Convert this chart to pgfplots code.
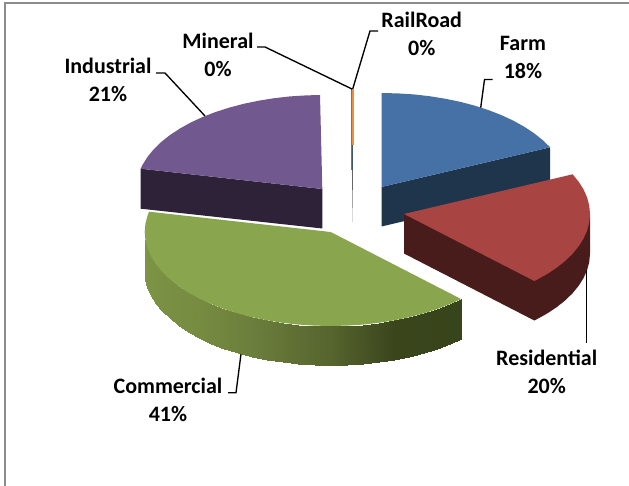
\documentclass[border=0pt]{standalone}
\usepackage{fontspec}
\setmainfont{Carlito}
\usepackage{pgfplots}
\usepackage{pgfplotstable}
\pgfplotsset{compat=1.18}
\definecolor{cfarm}{HTML}{4571A7}
\definecolor{cfarmd}{HTML}{1F354C}
\definecolor{cres}{HTML}{A84442}
\definecolor{cresd}{HTML}{471C1A}
\definecolor{ccom}{HTML}{89A54E}
\definecolor{cind}{HTML}{71588F}
\definecolor{cindd}{HTML}{2E2238}
\definecolor{cframe}{HTML}{8C8C8C}
\definecolor{crail}{HTML}{F08C3C}
\definecolor{cmin}{HTML}{5A7F88}
\pgfplotstableread{
x y
0 0
0 -94
16.2 -93.6
32.3 -92.6
48.1 -90.8
63.6 -88.3
78.6 -85.2
93 -81.4
106.7 -77
119.6 -72
131.5 -66.5
142.5 -60.4
152.4 -53.9
161.1 -47
168.6 -39.7
}\farmtop
\pgfplotstableread{
x y
0 0
168.6 -39.7
168.6 -0.2
0 39.5
}\farmside
\pgfplotstableread{
x y
0 0
168.6 -39.7
174.8 -32.1
179.7 -24.3
183.2 -16.3
185.3 -8.2
186 0
185.3 8.2
183.2 16.3
179.7 24.3
174.8 32.1
168.6 39.7
161.1 47
152.4 53.9
142.5 60.4
130.4 67.05
}\restop
\pgfplotstableread{
x y
0 0
186 0
186 39.5
185.3 47.7
183.2 55.8
179.7 63.8
174.8 71.6
168.6 79.2
161.1 86.5
152.4 93.4
142.5 99.9
130.4 106.55
0 39.5
}\resside
\pgfplotstableread{
x y
0 0
130.4 67.05
119.6 72
106.7 77
93 81.4
78.6 85.2
63.6 88.3
48.1 90.8
32.3 92.6
16.2 93.6
0 94
-16.2 93.6
-32.3 92.6
-48.1 90.8
-63.6 88.3
-78.6 85.2
-93 81.4
-106.7 77
-119.6 72
-131.5 66.5
-142.5 60.4
-152.4 53.9
-161.1 47
-168.6 39.7
-174.8 32.1
-179.7 24.3
-183.2 16.3
-185.3 8.2
-186 0
-185.3 -8.2
-183.2 -16.3
-181.6 -20.3
}\comtop
\pgfplotstableread{
x y t
130.4 67.05 135.5
130.4 106.55 135.5
119.6 72 140
119.6 111.5 140
106.7 77 145
106.7 116.5 145
93 81.4 150
93 120.9 150
78.6 85.2 155
78.6 124.7 155
63.6 88.3 160
63.6 127.8 160
48.1 90.8 165
48.1 130.3 165
32.3 92.6 170
32.3 132.1 170
16.2 93.6 175
16.2 133.1 175
0 94 180
0 133.5 180
-16.2 93.6 185
-16.2 133.1 185
-32.3 92.6 190
-32.3 132.1 190
-48.1 90.8 195
-48.1 130.3 195
-63.6 88.3 200
-63.6 127.8 200
-78.6 85.2 205
-78.6 124.7 205
-93 81.4 210
-93 120.9 210
-106.7 77 215
-106.7 116.5 215
-119.6 72 220
-119.6 111.5 220
-131.5 66.5 225
-131.5 106 225
-142.5 60.4 230
-142.5 99.9 230
-152.4 53.9 235
-152.4 93.4 235
-161.1 47 240
-161.1 86.5 240
-168.6 39.7 245
-168.6 79.2 245
-174.8 32.1 250
-174.8 71.6 250
-179.7 24.3 255
-179.7 63.8 255
-183.2 16.3 260
-183.2 55.8 260
-185.3 8.2 265
-185.3 47.7 265
-186 0 270
-186 39.5 270
}\comside
\pgfplotstableread{
x y
0 0
-181.6 -20.3
-179.7 -24.3
-174.8 -32.1
-168.6 -39.7
-161.1 -47
-152.4 -53.9
-142.5 -60.4
-131.5 -66.5
-119.6 -72
-106.7 -77
-93 -81.4
-78.6 -85.2
-63.6 -88.3
-48.1 -90.8
-32.3 -92.6
-16.2 -93.6
-2.3 -94
}\indtop
\pgfplotstableread{
x y
0 0
-181.6 -20.3
-181.6 19.7
0 39.5
}\indside
\tikzset{lab/.style={font=\fontsize{22}{28}\selectfont\bfseries, align=center, text=black, inner sep=0pt}}
\begin{document}
\begin{tikzpicture}
\useasboundingbox (0,0) rectangle (629pt,486pt);
\begin{axis}[
  scale only axis, width=629pt, height=486pt,
  xmin=0, xmax=629, ymin=0, ymax=486, y dir=reverse,
  axis lines=none, clip=true,
  colormap={greenside}{rgb255(135pt)=(56,68,27); rgb255(160pt)=(58,69,28); rgb255(180pt)=(86,100,46); rgb255(205pt)=(108,126,60); rgb255(225pt)=(118,140,65); rgb255(270pt)=(126,150,70)},
  point meta min=135, point meta max=270,
]
% zero-size slices
\addplot[color=cmin, line width=0.9pt] coordinates {(351.4,89)(351.4,170)};
\addplot[color=crail, line width=1.8pt] coordinates {(353,89)(353,145)};
\addplot[color=cmin!70!black, line width=1.2pt] coordinates {(352.6,145)(352.6,170)};
\addplot[color=black!60, line width=1.2pt] coordinates {(352.5,170)(352.5,190)};
\addplot[color=black!35, line width=1pt] coordinates {(352.5,190)(352.5,208)};
\addplot[color=black!15, line width=1pt] coordinates {(352.5,208)(352.5,222)};
% farm
\addplot[fill=cfarmd, draw=none] table[x expr=\thisrow{x}+381.5, y expr=\thisrow{y}+187] {\farmside};
\addplot[fill=cfarm, draw=none] table[x expr=\thisrow{x}+381.5, y expr=\thisrow{y}+187] {\farmtop};
% industrial
\addplot[fill=cindd, draw=none] table[x expr=\thisrow{x}+322.3, y expr=\thisrow{y}+189] {\indside};
\addplot[fill=cind, draw=none] table[x expr=\thisrow{x}+322.3, y expr=\thisrow{y}+189] {\indtop};
% residential
\addplot[fill=cresd, draw=none] table[x expr=\thisrow{x}+404, y expr=\thisrow{y}+214] {\resside};
\addplot[fill=cres, draw=none] table[x expr=\thisrow{x}+404, y expr=\thisrow{y}+214] {\restop};
% commercial
\addplot[surf, shader=interp, mesh/rows=28, mesh/cols=2, point meta=\thisrow{t}] table[x expr=\thisrow{x}+330.7, y expr=\thisrow{y}+232] {\comside};
\addplot[fill=ccom, draw=none] table[x expr=\thisrow{x}+330.7, y expr=\thisrow{y}+232] {\comtop};
% leader lines
\addplot[black, line width=1.35pt] coordinates {(480.7,107.7)(484.5,79.5)(492.7,79.5)};
\addplot[black, line width=1.35pt] coordinates {(352.7,89)(370,31)(378,31)};
\addplot[black, line width=1.35pt] coordinates {(352,89)(265,47)(257,47)};
\addplot[black, line width=1.35pt] coordinates {(205,116)(165,73)(156,73)};
\addplot[black, line width=1.35pt] coordinates {(241,354)(236,392.7)(228,392.7)};
\addplot[black, line width=1.35pt] coordinates {(586.7,270)(586.7,343.3)};
% frame
\addplot[cframe, line width=1.4pt] coordinates {(5,486)(5,3)(629,3)};
% labels
\node[lab] at (axis cs:421.7,34) {RailRoad\\0\%};
\node[lab] at (axis cs:523,57) {Farm\\18\%};
\node[lab] at (axis cs:218,54.5) {Mineral\\0\%};
\node[lab] at (axis cs:108,80) {Industrial\\21\%};
\node[lab] at (axis cs:168,399.5) {Commercial\\41\%};
\node[lab] at (axis cs:546.7,372) {Residential\\20\%};
\end{axis}
\end{tikzpicture}
\end{document}
